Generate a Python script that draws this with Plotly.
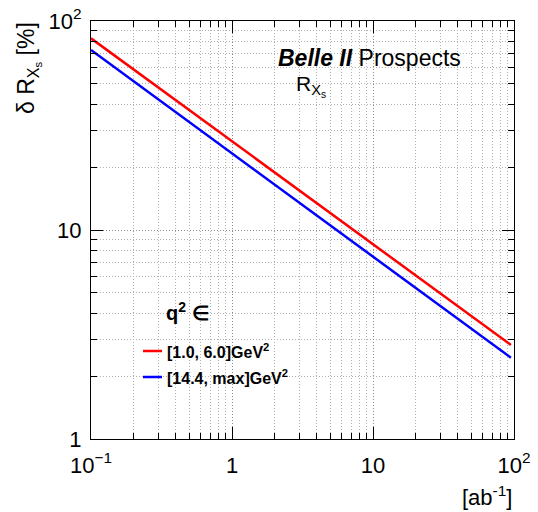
import plotly.graph_objects as go

# Integrated luminosity [ab^-1]
lumi = [0.1, 0.2, 0.5, 1, 2, 5, 10, 20, 50, 95]
# delta R_Xs [%] for q^2 in [1.0, 6.0] GeV^2
low_q2 = [82.6, 58.7, 37.4, 26.6, 18.9, 12.0, 8.55, 6.07, 3.86, 2.82]
# delta R_Xs [%] for q^2 in [14.4, max] GeV^2
high_q2 = [72.6, 51.5, 32.8, 23.3, 16.5, 10.5, 7.45, 5.29, 3.36, 2.45]

x_major = [0.1, 1, 10, 100]
x_major_text = ["10<sup>\u22121</sup>", "1", "10", "10<sup>2</sup>"]
y_major = [1, 10, 100]
y_major_text = ["1", "10", "10<sup>2</sup>"]

x_minor = [m * d for d in [0.1, 1, 10] for m in range(2, 10)]
y_minor = [m * d for d in [1, 10] for m in range(2, 10)]

FONT = "Liberation Sans, Arial, Helvetica, sans-serif"
W, H = 538, 512
L, R, T, B = 91, 24, 21, 73

def px(x):
    return (x - L) / (W - L - R)

def py(y):
    return (H - B - y) / (H - T - B)

fig = go.Figure()
fig.add_trace(go.Scatter(x=lumi, y=low_q2, mode="lines", line=dict(color="#ff0000", width=2.5),
                         name="[1.0, 6.0]GeV²", showlegend=False))
fig.add_trace(go.Scatter(x=lumi, y=high_q2, mode="lines", line=dict(color="#0000ff", width=2.5),
                         name="[14.4, max]GeV²", showlegend=False))

grid = dict(showgrid=True, gridcolor="#8a8a8a", griddash="1px,2px", gridwidth=1)
axis_common = dict(
    type="log", showline=True, linecolor="black", linewidth=1.2, mirror="allticks",
    ticks="inside", ticklen=12, tickcolor="black", tickwidth=1, automargin=False,
    tickfont=dict(family=FONT, size=22, color="black"), zeroline=False,
    tickmode="array", **grid,
)
minor_common = dict(tickmode="array", ticks="inside", ticklen=6, tickcolor="black",
                    showgrid=True, gridcolor="#b0b0b0", griddash="1px,2px")

fig.update_xaxes(range=[-1, 2], tickvals=x_major, ticktext=x_major_text, ticklabelstandoff=6,
                 minor=dict(tickvals=x_minor, **minor_common), **axis_common)
fig.update_yaxes(range=[0, 2], tickvals=y_major, ticktext=y_major_text, ticklabelstandoff=4,
                 minor=dict(tickvals=y_minor, **minor_common), **axis_common)

annotations = [
    dict(x=px(276), y=py(58), xanchor="left", yanchor="middle",
         text="<b><i>Belle II</i></b> Prospects", font=dict(family=FONT, size=23, color="black")),
    dict(x=px(294), y=py(86), xanchor="left", yanchor="middle",
         text="R<sub>X<sub>s</sub></sub>", font=dict(family=FONT, size=21, color="black")),
    dict(x=px(28), y=py(68), xanchor="center", yanchor="middle", textangle=-90,
         text="\u03b4 R<sub>X<sub>s</sub></sub> [%]", font=dict(family=FONT, size=23, color="black")),
    dict(x=px(514), y=py(496), xanchor="right", yanchor="middle",
         text="[ab<sup>-1</sup>]", font=dict(family=FONT, size=22, color="black")),
    dict(x=px(164), y=py(311), xanchor="left", yanchor="middle",
         text="<b>q<sup>2</sup> \u2208</b>", font=dict(family=FONT, size=20, color="black")),
    dict(x=px(165), y=py(351), xanchor="left", yanchor="middle",
         text="<b>[1.0, 6.0]GeV<sup>2</sup></b>", font=dict(family=FONT, size=16, color="black")),
    dict(x=px(165), y=py(377), xanchor="left", yanchor="middle",
         text="<b>[14.4, max]GeV<sup>2</sup></b>", font=dict(family=FONT, size=16, color="black")),
]
for a in annotations:
    a.update(xref="paper", yref="paper", showarrow=False)

shapes = [
    dict(type="line", xref="paper", yref="paper", x0=px(143), x1=px(162), y0=py(351), y1=py(351),
         line=dict(color="#ff0000", width=2.5)),
    dict(type="line", xref="paper", yref="paper", x0=px(143), x1=px(162), y0=py(377), y1=py(377),
         line=dict(color="#0000ff", width=2.5)),
]

fig.update_layout(
    width=W, height=H, margin=dict(l=L, r=R, t=T, b=B),
    paper_bgcolor="white", plot_bgcolor="white",
    annotations=annotations, shapes=shapes, showlegend=False,
    font=dict(family=FONT),
)

fig.write_html("out.html", config={"displayModeBar": False},
               post_script="document.body.style.margin='0';document.body.style.overflow='hidden';")
